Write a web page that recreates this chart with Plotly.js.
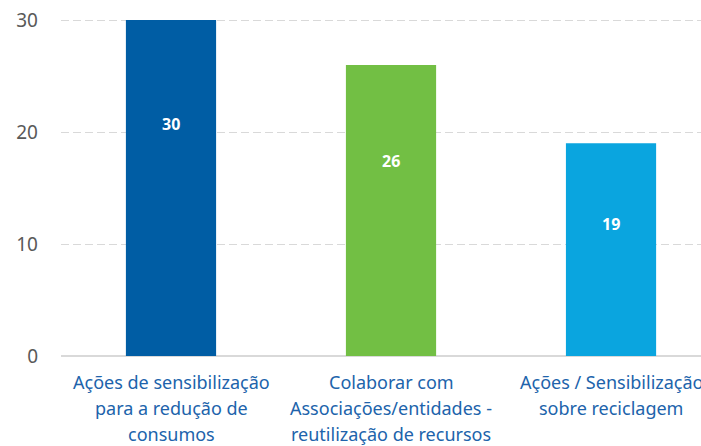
<!DOCTYPE html>
<html>
<head>
<meta charset="utf-8">
<script src="https://cdn.plot.ly/plotly-3.0.1.min.js"></script>
<style>html,body{margin:0;padding:0;background:#fff;overflow:hidden}</style>
</head>
<body>
<div id="chart" style="width:701px;height:446px"></div>
<script>
const categories = ["c1", "c2", "c3"];
const categoryLabelLines = [
  ["Ações de sensibilização", "para a redução de", "consumos"],
  ["Colaborar com", "Associações/entidades -", "reutilização de recursos"],
  ["Ações / Sensibilização", "sobre reciclagem"]
];
const values = [30, 26, 19];
const barColors = ["#005DA4", "#72BF44", "#0AA5DF"];
const yTickValues = [0, 10, 20, 30];

const annotations = [];
values.forEach((v, i) => {
  annotations.push({
    x: categories[i], y: v * 0.81 - 3.6, xref: "x", yref: "y",
    text: "<b>" + v + "</b>", showarrow: false,
    font: {family: "Noto Sans, Open Sans, sans-serif", size: 16, color: "#ffffff"}
  });
});
categoryLabelLines.forEach((lines, i) => {
  lines.forEach((line, j) => {
    annotations.push({
      x: categories[i], y: 0, xref: "x", yref: "y",
      text: line, showarrow: false, yanchor: "middle",
      yshift: -26 - 26 * j,
      font: {family: "Noto Sans, Open Sans, sans-serif", size: 18, color: "#2063AB"}
    });
  });
});

const trace = {
  type: "bar",
  x: categories,
  y: values,
  marker: {color: barColors},
  hoverinfo: "none"
};

const layout = {
  width: 701, height: 446,
  margin: {l: 61, r: 0, t: 19, b: 90},
  paper_bgcolor: "#ffffff", plot_bgcolor: "#ffffff",
  showlegend: false,
  bargap: 0.59,
  xaxis: {
    range: [-0.5, 2.409],
    showticklabels: false, showgrid: false, zeroline: false,
    showline: false, ticks: ""
  },
  yaxis: {
    range: [0, 30.1],
    tickvals: yTickValues,
    ticktext: yTickValues.map(String),
    tickfont: {family: "Noto Sans, Open Sans, sans-serif", size: 19, color: "#595959"},
    ticks: "", ticklabelstandoff: 22,
    showgrid: true, gridcolor: "#D9D9D9", griddash: "8px,4px", gridwidth: 1,
    zeroline: true, zerolinecolor: "#D9D9D9", zerolinewidth: 1.5,
    showline: false
  },
  annotations: annotations
};

Plotly.newPlot("chart", [trace], layout, {displayModeBar: false, staticPlot: true});
</script>
</body>
</html>
